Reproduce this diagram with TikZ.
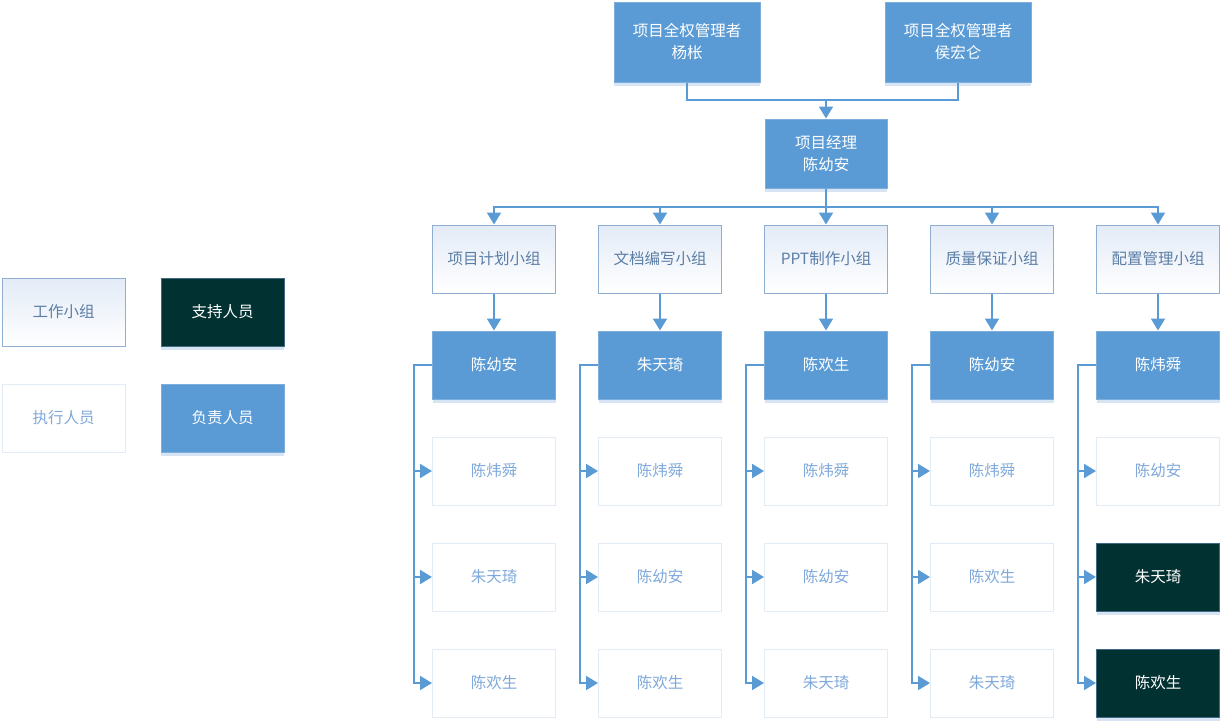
\documentclass[tikz,border=0pt]{standalone}
\usepackage{fontspec}
\setmainfont{Noto Sans CJK SC}
\usepackage{xcolor}
\usetikzlibrary{positioning, arrows.meta, calc, shadows}
\definecolor{lineblue}{HTML}{5B9BD5}
\definecolor{leadblue}{HTML}{5B9BD5}
\definecolor{leadborder}{HTML}{7EAEDC}
\definecolor{shadowblue}{HTML}{D6E4F3}
\definecolor{grouptop}{HTML}{E3EBF7}
\definecolor{groupborder}{HTML}{8EAFD2}
\definecolor{grouptext}{HTML}{5B7EA6}
\definecolor{memberborder}{HTML}{E3EBF4}
\definecolor{membertext}{HTML}{7FA9DA}
\definecolor{supportdark}{HTML}{023131}
\definecolor{supportborder}{HTML}{3E6A86}
\tikzset{
    >={Triangle[width=14pt,length=12pt]}, % filled arrow heads
    node distance=37pt and 42pt, % gap between the boxes
    every node/.style={font=\fontsize{15.5}{22}\selectfont},
    box/.style={rectangle, minimum width=123pt, minimum height=68pt, inner sep=0pt, align=center},
    group/.style={box, draw=groupborder, line width=1pt, top color=grouptop, bottom color=white, text=grouptext},
    member/.style={box, draw=memberborder, line width=1pt, fill=white, text=membertext},
    lead/.style={box, draw=leadborder, line width=1pt, fill=leadblue, text=white,
        drop shadow={shadow xshift=0pt, shadow yshift=-4pt, fill=shadowblue, opacity=1}},
    support/.style={box, draw=supportborder, line width=1pt, fill=supportdark, text=white,
        drop shadow={shadow xshift=0pt, shadow yshift=-4pt, fill=shadowblue, opacity=1}},
    bus/.style={to path={(\tikztostart) -- ++(0,-18pt) -| (\tikztotarget)}}, % down, across, down
    branch/.style={to path={(\tikztostart) -- ++(-18pt,0) |- (\tikztotarget)}}, % left, down, right
}
\tikzstyle{line} = [line width=2pt, draw=lineblue]
\tikzstyle{arrow} = [line width=2pt, draw=lineblue, ->]

\begin{document}
\begin{tikzpicture}[x=1pt, y=1pt]
    \useasboundingbox (0,0) rectangle (1220,-721);

    % legend
    \node[group] (leg1) at (63.5,-312) {工作小组};
    \node[support, right=35pt of leg1] (leg2) {支持人员};
    \node[member, below=37pt of leg1] (leg3) {执行人员};
    \node[lead, below=37pt of leg2] (leg4) {负责人员};

    % owners and manager
    \node[lead, minimum width=146pt, minimum height=80pt] (own1) at (687,-42) {项目全权管理者\\杨枨};
    \node[lead, minimum width=146pt, minimum height=80pt] (own2) at (958,-42) {项目全权管理者\\侯宏仑};
    \node[lead, minimum width=122pt, minimum height=69pt] (pm) at (826,-153.5) {项目经理\\陈幼安};

    % groups
    \node[group, below=36pt of pm] (g3) {PPT制作小组};
    \node[group, left=42pt of g3] (g2) {文档编写小组};
    \node[group, left=42pt of g2] (g1) {项目计划小组};
    \node[group, right=42pt of g3] (g4) {质量保证小组};
    \node[group, right=42pt of g4] (g5) {配置管理小组};

    % leaders
    \node[lead, below=of g1] (l1) {陈幼安};
    \node[lead, below=of g2] (l2) {朱天琦};
    \node[lead, below=of g3] (l3) {陈欢生};
    \node[lead, below=of g4] (l4) {陈幼安};
    \node[lead, below=of g5] (l5) {陈炜舜};

    % members
    \node[member, below=of l1] (m1a) {陈炜舜};
    \node[member, below=of m1a] (m1b) {朱天琦};
    \node[member, below=of m1b] (m1c) {陈欢生};
    \node[member, below=of l2] (m2a) {陈炜舜};
    \node[member, below=of m2a] (m2b) {陈幼安};
    \node[member, below=of m2b] (m2c) {陈欢生};
    \node[member, below=of l3] (m3a) {陈炜舜};
    \node[member, below=of m3a] (m3b) {陈幼安};
    \node[member, below=of m3b] (m3c) {朱天琦};
    \node[member, below=of l4] (m4a) {陈炜舜};
    \node[member, below=of m4a] (m4b) {陈欢生};
    \node[member, below=of m4b] (m4c) {朱天琦};
    \node[member, below=of l5] (m5a) {陈幼安};
    \node[support, below=of m5a] (m5b) {朱天琦};
    \node[support, below=of m5b] (m5c) {陈欢生};

    \coordinate (join) at ($(pm.north)+(0,19pt)$);
    \draw[line] (own1.south) |- (join) -| (own2.south);
    \draw[arrow] (join) -- (pm.north);

    \path[every edge/.style=arrow]
        (pm.south) edge[bus] (g1.north)
        (pm.south) edge[bus] (g2.north)
        (pm.south) edge[bus] (g3.north)
        (pm.south) edge[bus] (g4.north)
        (pm.south) edge[bus] (g5.north)
        (g1) edge (l1) (g2) edge (l2) (g3) edge (l3) (g4) edge (l4) (g5) edge (l5)
        (l1.west) edge[branch] (m1a.west) edge[branch] (m1b.west) edge[branch] (m1c.west)
        (l2.west) edge[branch] (m2a.west) edge[branch] (m2b.west) edge[branch] (m2c.west)
        (l3.west) edge[branch] (m3a.west) edge[branch] (m3b.west) edge[branch] (m3c.west)
        (l4.west) edge[branch] (m4a.west) edge[branch] (m4b.west) edge[branch] (m4c.west)
        (l5.west) edge[branch] (m5a.west) edge[branch] (m5b.west) edge[branch] (m5c.west);
\end{tikzpicture}
\end{document}
